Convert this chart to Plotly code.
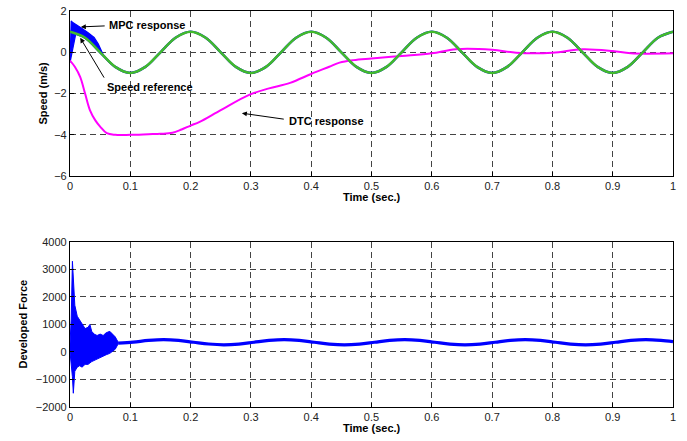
import plotly.graph_objects as go

# ---------------- data ----------------
# Speed reference (m/s)
t_ref = [round(0.025 * i, 3) for i in range(41)]
ref_speed = [1, 0.707, 0, -0.707, -1, -0.707, 0, 0.707] * 5 + [1]

# MPC response: transient band (upper envelope) then it follows the reference
t_mpc_up = [0.0, 0.001, 0.002, 0.004, 0.01, 0.02, 0.03, 0.04, 0.047, 0.052, 0.056]
mpc_up = [-0.5, 1.2, 1.52, 1.45, 1.35, 1.15, 0.95, 0.72, 0.4, 0.1, -0.15]
t_mpc_lo = [0.0, 0.01, 0.02, 0.03, 0.04, 0.05, 0.056]
mpc_lo = [-0.5, 0.95, 0.81, 0.59, 0.31, 0.0, -0.18]

# DTC response
t_dtc = [0.0, 0.008, 0.017, 0.025, 0.033, 0.042, 0.05, 0.061, 0.075, 0.1, 0.13, 0.15,
         0.17, 0.185, 0.2, 0.215, 0.25, 0.298, 0.33, 0.365, 0.4, 0.43, 0.447, 0.47, 0.5,
         0.55, 0.6, 0.64, 0.7, 0.74, 0.8, 0.85, 0.9, 0.93, 1.0]
dtc = [-0.4, -0.7, -1.2, -2.0, -2.8, -3.3, -3.6, -3.92, -4.0, -4.0, -3.97, -3.95,
       -3.9, -3.74, -3.55, -3.37, -2.8, -2.05, -1.75, -1.48, -1.05, -0.7, -0.5, -0.38, -0.3,
       -0.18, -0.05, 0.15, 0.12, -0.02, -0.02, 0.15, 0.06, -0.05, -0.05]

# Developed force: transient band envelopes
t_f_env = [0.0, 0.002, 0.004, 0.0055, 0.008, 0.012, 0.016, 0.02, 0.025, 0.03, 0.033,
           0.036, 0.04, 0.045, 0.05, 0.055, 0.06, 0.066, 0.07, 0.075, 0.08]
f_up = [300, 1200, 3300, 2600, 1700, 1300, 1150, 1050, 850, 900, 1000,
        750, 650, 600, 650, 600, 700, 750, 650, 550, 350]
f_lo = [0, -300, -900, -1500, -700, -550, -500, -550, -450, -450, -400,
        -350, -300, -250, -200, -150, -100, -50, 0, 100, 300]
# Developed force: steady part
t_force = [round(0.08 + 0.025 * i, 3) for i in range(37)] + [1.0]
force = [320, 360, 420, 450, 422, 355, 290, 262,
         288, 355, 420, 450, 422, 355, 288, 260,
         288, 355, 422, 450, 422, 355, 288, 260,
         288, 355, 422, 450, 422, 355, 288, 260,
         288, 355, 422, 450, 422, 375]

x_ticks = [0, 0.1, 0.2, 0.3, 0.4, 0.5, 0.6, 0.7, 0.8, 0.9, 1]
x_ticklabels = ["0", "0.1", "0.2", "0.3", "0.4", "0.5", "0.6", "0.7", "0.8", "0.9", "1"]
y1_ticks = [-6, -4, -2, 0, 2]
y2_ticks = [-2000, -1000, 0, 1000, 2000, 3000, 4000]

BLUE = "#0000FF"
GREEN = "#41BA2C"
MAGENTA = "#FF00FF"

fig = go.Figure()

# ---- top panel ----
fig.add_trace(go.Scatter(x=t_mpc_up + t_mpc_lo[::-1], y=mpc_up + mpc_lo[::-1],
                         fill="toself", fillcolor=BLUE, mode="lines",
                         line=dict(color=BLUE, width=1.2), xaxis="x", yaxis="y",
                         showlegend=False, hoverinfo="skip"))
fig.add_trace(go.Scatter(x=t_ref, y=ref_speed, mode="lines", line=dict(color=BLUE, width=2.4, shape="spline"),
                         xaxis="x", yaxis="y", showlegend=False))
fig.add_trace(go.Scatter(x=t_dtc, y=dtc, mode="lines", line=dict(color=MAGENTA, width=2, shape="spline", smoothing=1),
                         xaxis="x", yaxis="y", showlegend=False))
fig.add_trace(go.Scatter(x=t_ref, y=ref_speed, mode="lines", line=dict(color=GREEN, width=2.5, shape="spline"),
                         xaxis="x", yaxis="y", showlegend=False))

# ---- bottom panel ----
fig.add_trace(go.Scatter(x=t_f_env + t_f_env[::-1], y=f_up + f_lo[::-1],
                         fill="toself", fillcolor=BLUE, mode="lines",
                         line=dict(color=BLUE, width=1), xaxis="x2", yaxis="y2",
                         showlegend=False, hoverinfo="skip"))
fig.add_trace(go.Scatter(x=t_force, y=force, mode="lines", line=dict(color=BLUE, width=3.2, shape="spline"),
                         xaxis="x2", yaxis="y2", showlegend=False))

tickfont = dict(family="Liberation Sans, Arial", size=11, color="#222")
axis_common = dict(showline=True, mirror=True, linecolor="black", linewidth=1.2,
                   ticks="inside", ticklen=4, tickcolor="black", tickfont=tickfont,
                   showgrid=True, gridcolor="#444", gridwidth=1, griddash="6px,4px",
                   zeroline=False, automargin=False)

fig.update_layout(
    width=687, height=441,
    paper_bgcolor="white", plot_bgcolor="white",
    margin=dict(l=70, r=14, t=11, b=34),
    xaxis=dict(domain=[0, 1], range=[0, 1], tickvals=x_ticks, ticktext=x_ticklabels,
               anchor="y", **axis_common),
    yaxis=dict(domain=[0.583, 1], range=[-6, 2], tickvals=y1_ticks, anchor="x", **axis_common),
    xaxis2=dict(domain=[0, 1], range=[0, 1], tickvals=x_ticks, ticktext=x_ticklabels,
                anchor="y2", **axis_common),
    yaxis2=dict(domain=[0, 0.4167], range=[-2000, 4000], tickvals=y2_ticks, anchor="x2", **axis_common),
)

lab = dict(family="Liberation Sans, Arial", size=11, color="black")
annots = [
    # axis titles
    dict(text="<b>Time (sec.)</b>", xref="paper", yref="paper", x=0.5, y=0.583, yshift=-21,
         showarrow=False, font=lab, xanchor="center", yanchor="middle"),
    dict(text="<b>Time (sec.)</b>", xref="paper", yref="paper", x=0.5, y=0, yshift=-21,
         showarrow=False, font=lab, xanchor="center", yanchor="middle"),
    dict(text="<b>Speed (m/s)</b>", xref="paper", yref="y", x=0, xshift=-27, y=-2,
         showarrow=False, font=lab, textangle=-90, xanchor="center", yanchor="middle"),
    dict(text="<b>Developed Force</b>", xref="paper", yref="y2", x=0, xshift=-47, y=1000,
         showarrow=False, font=lab, textangle=-90, xanchor="center", yanchor="middle"),
    # labels with arrows
    dict(text="<b>MPC response</b>", xref="x", yref="y", x=0.062, y=1.3,
         showarrow=False, font=lab, xanchor="left", yanchor="middle"),
    dict(text="", xref="x", yref="y", x=0.018, y=1.23, ax=0.06, ay=1.28, axref="x", ayref="y",
         showarrow=True, arrowhead=2, arrowsize=1, arrowwidth=1, arrowcolor="black"),
    dict(text="<b>Speed reference</b>", xref="x", yref="y", x=0.058, y=-1.67,
         showarrow=False, font=lab, xanchor="left", yanchor="middle"),
    dict(text="", xref="x", yref="y", x=0.017, y=0.7, ax=0.058, ay=-1.3, axref="x", ayref="y",
         showarrow=True, arrowhead=2, arrowsize=1, arrowwidth=1, arrowcolor="black"),
    dict(text="<b>DTC response</b>", xref="x", yref="y", x=0.36, y=-3.35,
         showarrow=False, font=lab, xanchor="left", yanchor="middle"),
    dict(text="", xref="x", yref="y", x=0.285, y=-2.95, ax=0.357, ay=-3.25, axref="x", ayref="y",
         showarrow=True, arrowhead=2, arrowsize=1, arrowwidth=1, arrowcolor="black"),
]
fig.update_layout(annotations=annots)

fig.write_html("out.html", config={"displayModeBar": False},
               post_script="document.body.style.margin='0';")
